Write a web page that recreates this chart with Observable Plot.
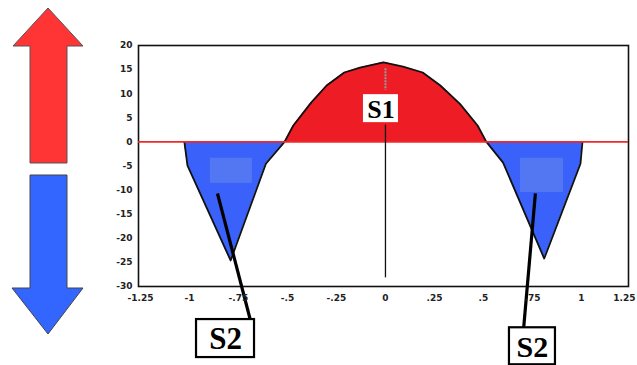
<!DOCTYPE html>
<html><head><meta charset="utf-8">
<script src="https://cdn.jsdelivr.net/npm/d3@7"></script>
<script src="https://cdn.jsdelivr.net/npm/@observablehq/plot@0.6"></script>
<style>
html,body{margin:0;padding:0;background:#fff;}
#wrap{position:relative;width:637px;height:365px;overflow:hidden;background:#fff;}
#chart{position:absolute;left:0;top:0;}
#arrows{position:absolute;left:0;top:0;}
</style></head><body>
<div id="wrap">
<div id="chart"></div>
<svg id="arrows" width="100" height="345">
  <polygon points="48,8 83,46 67,46 67,163 30,163 30,46 13,46" fill="#ff3535" stroke="#555" stroke-width="1"/>
  <polygon points="30,175 67,175 67,288 83,288 48,334 12,288 30,288" fill="#3366ff" stroke="#444" stroke-width="1"/>
</svg>
</div>
<script>
// curve values (x, y)
const curveX = [-1.026, -1.01, -0.79, -0.61, -0.515, -0.47, -0.38, -0.30, -0.21, -0.13, -0.01, 0.09, 0.19, 0.28, 0.38, 0.47, 0.515, 0.60, 0.81, 0.995, 1.005];
const curveY = [0, -4.9, -24.6, -4.5, 0, 3.4, 8.1, 11.7, 14.4, 15.4, 16.5, 15.6, 14.4, 11.7, 7.9, 3.4, 0, -4.3, -24.2, -4.5, 0];

// lighter patches inside the blue regions
const patchX1 = [-0.893, 0.689];
const patchX2 = [-0.679, 0.908];
const patchY1 = [-3.4, -3.4];
const patchY2 = [-8.6, -10.5];

// tick labels
const xTicks = [-1.25, -1, -0.75, -0.5, -0.25, 0, 0.25, 0.5, 0.75, 1, 1.25];
const xTickLabels = ["-1.25", "-1", "-.75", "-.5", "-.25", "0", ".25", ".5", ".75", "1", "1.25"];
const yTicks = [20, 15, 10, 5, 0, -5, -10, -15, -20, -25, -30];
const yTickLabels = ["20", "15", "10", "5", "0", "-5", "-10", "-15", "-20", "-25", "-30"];

// annotations
const labelText = ["S1", "S2", "S2"];
const labelX = [-0.023, -0.816, 0.75];
const labelY = [6.9, -40.8, -42.4];
const leaderX1 = [0, -0.857, 0.765];
const leaderY1 = [3.6, -10.7, -10.7];
const leaderX2 = [0, -0.689, 0.704];
const leaderY2 = [-28.1, -37.0, -39.1];

const curve = curveX.map((x, i) => ({x, y: curveY[i]}));
const patches = patchX1.map((x1, i) => ({x1, x2: patchX2[i], y1: patchY1[i], y2: patchY2[i]}));
const labels = labelText.map((t, i) => ({t, x: labelX[i], y: labelY[i]}));
const leaders = leaderX1.map((x1, i) => ({x1, y1: leaderY1[i], x2: leaderX2[i], y2: leaderY2[i]}));
const xMap = new Map(xTicks.map((d, i) => [d, xTickLabels[i]]));
const yMap = new Map(yTicks.map((d, i) => [d, yTickLabels[i]]));

const boxStyles = [
  {w: 35, h: 28, stroke: "none", size: 26},
  {w: 58, h: 38, stroke: "#000", size: 31},
  {w: 46, h: 37, stroke: "#000", size: 30}
];

const boxMarks = labels.map((d, i) => {
  const s = boxStyles[i];
  return Plot.rect([d], {
    x1: "x", x2: "x", y1: "y", y2: "y",
    insetLeft: -s.w / 2, insetRight: -s.w / 2, insetTop: -s.h / 2, insetBottom: -s.h / 2,
    fill: "#fff", stroke: s.stroke, strokeWidth: 2.2
  });
});
const textMarks = labels.map((d, i) => Plot.text([d], {
  x: "x", y: "y", text: "t", fontSize: boxStyles[i].size, fontWeight: "bold",
  fontFamily: "Liberation Serif, serif", fill: "#000", dy: 1
}));

const axisStyle = {tickSize: 0, fontSize: 9, fontWeight: "bold", fontFamily: "DejaVu Sans", fill: "#222", label: null};
const lastX = xTicks[xTicks.length - 1];

const chart = Plot.plot({
  width: 637, height: 365,
  marginLeft: 138, marginRight: 9, marginTop: 45, marginBottom: 79,
  style: {background: "#fff", overflow: "visible"},
  x: {domain: [-1.26, 1.24]},
  y: {domain: [-30, 20]},
  marks: [
    Plot.areaY(curve, {x: "x", y: d => Math.max(0, d.y), fill: "#ee1c25"}),
    Plot.areaY(curve, {x: "x", y: d => Math.min(0, d.y), fill: "#3a62fa"}),
    Plot.rect(patches, {x1: "x1", x2: "x2", y1: "y1", y2: "y2", fill: "#5377f3"}),
    Plot.line(curve, {x: "x", y: "y", stroke: "#111", strokeWidth: 1.8}),
    Plot.ruleX([0], {y1: 15.2, y2: 10.7, stroke: "#999", strokeWidth: 2, strokeDasharray: "2,1"}),
    Plot.frame({stroke: "#111", strokeWidth: 1.6}),
    Plot.ruleY([0], {stroke: "#ee2a2a", strokeWidth: 1.6}),
    Plot.link(leaders.slice(0, 1), {x1: "x1", y1: "y1", x2: "x2", y2: "y2", stroke: "#111", strokeWidth: 1.3}),
    Plot.link(leaders.slice(1), {x1: "x1", y1: "y1", x2: "x2", y2: "y2", stroke: "#000", strokeWidth: 3.2}),
    ...boxMarks,
    ...textMarks,
    Plot.axisY({...axisStyle, ticks: yTicks, tickFormat: d => yMap.get(d), tickPadding: 6, style: "letter-spacing:1.5px"}),
    Plot.axisX({...axisStyle, ticks: xTicks.slice(0, -1), tickFormat: d => xMap.get(d), tickPadding: 8}),
    Plot.axisX({...axisStyle, ticks: [lastX], tickFormat: d => xMap.get(d), tickPadding: 8, textAnchor: "end", dx: 5})
  ]
});
document.getElementById("chart").appendChild(chart);
</script>
</body></html>
